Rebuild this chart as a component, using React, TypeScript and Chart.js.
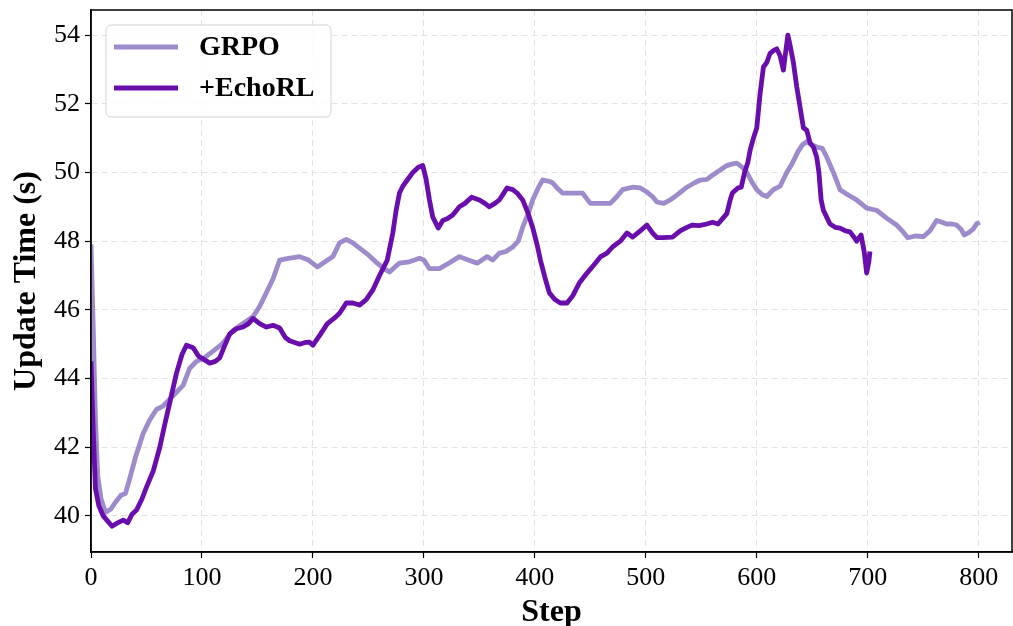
import React, { useEffect, useRef } from "react";
import { Chart, registerables } from "chart.js";

Chart.register(...registerables);

const grpoSteps = [0,2,4,6,9,13,18,22,27,31,35,40,47,53,59,65,71,77,83,89,95,102,110,118,128,137,146,152,158,164,170,178,188,196,204,211,218,224,230,236,242,250,258,264,269,274,278,287,296,300,305,314,322,332,340,348,357,362,368,374,380,385,389,394,398,403,407,412,416,420,425,434,443,450,461,468,474,479,488,495,501,506,510,516,522,528,537,544,549,555,560,566,573,578,582,587,591,596,600,605,609,615,621,627,632,637,641,645,650,654,659,663,669,675,682,690,699,708,717,726,731,736,743,750,756,762,767,771,776,780,784,787,791,795,798,801];
const grpoValues = [47.9,45.5,42.8,41.2,40.5,40.1,40.2,40.4,40.6,40.65,41.1,41.7,42.4,42.8,43.1,43.2,43.4,43.6,43.8,44.3,44.5,44.6,44.8,45.0,45.4,45.6,45.8,46.1,46.5,46.9,47.45,47.5,47.55,47.45,47.25,47.4,47.55,47.95,48.05,47.95,47.8,47.6,47.36,47.2,47.1,47.25,47.36,47.4,47.5,47.45,47.2,47.2,47.35,47.55,47.45,47.36,47.55,47.45,47.65,47.7,47.83,48.0,48.4,48.8,49.2,49.55,49.78,49.75,49.7,49.55,49.4,49.4,49.4,49.1,49.1,49.1,49.3,49.5,49.57,49.55,49.43,49.3,49.14,49.1,49.2,49.34,49.57,49.7,49.78,49.8,49.92,50.05,50.2,50.25,50.27,50.15,50.0,49.7,49.5,49.35,49.3,49.5,49.6,50.0,50.27,50.6,50.8,50.9,50.8,50.74,50.7,50.45,50.0,49.5,49.35,49.2,48.96,48.9,48.67,48.47,48.3,48.1,48.15,48.13,48.3,48.6,48.55,48.5,48.5,48.47,48.35,48.18,48.25,48.35,48.5,48.55];

const echoSteps = [0,2,4,7,11,15,19,24,29,33,37,41,46,50,56,62,66,71,77,82,86,92,97,102,107,112,116,121,125,131,137,142,146,152,158,164,170,175,179,188,193,197,200,207,213,219,224,230,236,242,248,254,260,267,272,275,278,281,285,290,295,299,302,305,308,313,317,321,326,332,337,343,350,355,359,364,368,375,380,384,389,394,398,402,405,409,413,418,423,429,434,440,447,453,459,465,470,477,483,488,495,501,506,510,515,524,531,537,542,548,555,560,565,569,573,576,578,583,586,589,592,594,597,600,603,606,609,612,615,618,621,624,626,628,630,633,636,639,642,645,648,651,654,656,658,660,663,666,671,675,680,684,688,690,694,697,699,701,702];
const echoValues = [44.5,42.5,40.8,40.3,40.0,39.85,39.7,39.8,39.88,39.8,40.05,40.17,40.5,40.84,41.3,42.0,42.6,43.3,44.15,44.7,44.97,44.9,44.65,44.55,44.45,44.5,44.6,45.0,45.3,45.45,45.5,45.6,45.75,45.6,45.5,45.55,45.47,45.2,45.1,45.0,45.05,45.06,44.97,45.3,45.6,45.75,45.9,46.2,46.2,46.14,46.3,46.58,47.0,47.45,48.24,48.9,49.4,49.6,49.78,50.0,50.15,50.2,49.8,49.2,48.7,48.38,48.6,48.65,48.76,49.0,49.1,49.28,49.2,49.1,49.0,49.1,49.2,49.55,49.5,49.4,49.2,48.8,48.4,47.9,47.45,46.95,46.5,46.3,46.2,46.2,46.4,46.78,47.07,47.3,47.54,47.65,47.83,48.0,48.24,48.12,48.3,48.47,48.24,48.1,48.1,48.12,48.3,48.4,48.47,48.45,48.5,48.55,48.5,48.65,48.8,49.2,49.4,49.55,49.57,50.0,50.3,50.65,51.0,51.3,52.3,53.07,53.2,53.47,53.55,53.6,53.4,52.98,53.5,54.0,53.7,53.2,52.5,51.9,51.3,51.23,50.86,50.74,50.45,50.0,49.2,48.9,48.7,48.5,48.4,48.38,48.3,48.27,48.1,48.0,48.18,47.65,47.07,47.4,47.7];

const seriesLabels = ["GRPO", "+EchoRL"];
const xTicks = [0, 100, 200, 300, 400, 500, 600, 700, 800];
const yTicks = [40, 42, 44, 46, 48, 50, 52, 54];

const LIGHT = "#9d8bcb";
const DARK = "#6a0dad";
const FONT = "'Liberation Serif', 'Times New Roman', serif";

const framePlugin = {
  id: "frameAndLegend",
  afterDraw(chart: any) {
    const ctx = chart.ctx;
    const a = chart.chartArea;
    ctx.save();
    ctx.strokeStyle = "#000";
    ctx.lineWidth = 1.5;
    ctx.setLineDash([]);
    ctx.strokeRect(a.left, a.top, a.right - a.left, a.bottom - a.top);

    // legend
    const lx = a.left + 15;
    const ly = a.top + 15;
    const w = 225;
    const h = 92;
    const r = 5;
    ctx.beginPath();
    ctx.moveTo(lx + r, ly);
    ctx.lineTo(lx + w - r, ly);
    ctx.arcTo(lx + w, ly, lx + w, ly + r, r);
    ctx.lineTo(lx + w, ly + h - r);
    ctx.arcTo(lx + w, ly + h, lx + w - r, ly + h, r);
    ctx.lineTo(lx + r, ly + h);
    ctx.arcTo(lx, ly + h, lx, ly + h - r, r);
    ctx.lineTo(lx, ly + r);
    ctx.arcTo(lx, ly, lx + r, ly, r);
    ctx.closePath();
    ctx.fillStyle = "rgba(255,255,255,0.85)";
    ctx.fill();
    ctx.strokeStyle = "#d4d4d4";
    ctx.lineWidth = 1;
    ctx.stroke();

    const colors = [LIGHT, DARK];
    const rows = [ly + 22, ly + 63];
    ctx.font = "bold 28px " + FONT;
    ctx.textBaseline = "middle";
    ctx.textAlign = "left";
    seriesLabels.forEach((lab, i) => {
      ctx.beginPath();
      ctx.strokeStyle = colors[i];
      ctx.lineWidth = 5;
      ctx.lineCap = "butt";
      ctx.moveTo(lx + 8, rows[i]);
      ctx.lineTo(lx + 72, rows[i]);
      ctx.stroke();
      ctx.fillStyle = "#000";
      ctx.fillText(lab, lx + 93, rows[i] + 1);
    });
    ctx.restore();
  },
};

export default function App() {
  const ref = useRef<HTMLCanvasElement | null>(null);
  useEffect(() => {
    document.body.style.margin = "0";
    if (!ref.current) return;
    const grpoData = grpoSteps.map((s, i) => ({ x: s, y: grpoValues[i] }));
    const echoData = echoSteps.map((s, i) => ({ x: s, y: echoValues[i] }));
    const gridCommon = {
      color: "#e3e3e3",
      lineWidth: 1,
      tickColor: "#000",
      tickLength: 6,
      tickWidth: 1.2,
      tickBorderDash: [],
    };
    const borderCommon = { display: true, color: "#000", width: 1.5, dash: [6, 4] };
    const chart = new Chart(ref.current, {
      type: "line",
      data: {
        datasets: [
          {
            label: seriesLabels[0],
            data: grpoData,
            borderColor: LIGHT,
            borderWidth: 4.8,
            pointRadius: 0,
            tension: 0,
            fill: false,
            order: 1,
            borderJoinStyle: "round",
          },
          {
            label: seriesLabels[1],
            data: echoData,
            borderColor: DARK,
            borderWidth: 4.8,
            pointRadius: 0,
            tension: 0,
            fill: false,
            order: 0,
            borderJoinStyle: "round",
          },
        ],
      },
      options: {
        animation: false,
        responsive: true,
        maintainAspectRatio: false,
        layout: { padding: { top: 10, right: 1, left: 0, bottom: 0 } },
        plugins: { legend: { display: false }, tooltip: { enabled: false } },
        scales: {
          x: {
            type: "linear",
            min: 0,
            max: 830,
            afterBuildTicks: (s: any) => {
              s.ticks = xTicks.map((v) => ({ value: v }));
            },
            afterFit: (s: any) => {
              s.height = 74;
              s.paddingLeft = 0;
              s.paddingRight = 0;
            },
            grid: gridCommon,
            border: borderCommon,
            ticks: {
              color: "#000",
              font: { family: FONT, size: 26 },
              padding: 5,
              maxRotation: 0,
            },
            title: {
              display: true,
              text: "Step",
              color: "#000",
              font: { family: FONT, size: 32, weight: "bold", lineHeight: 0.82 },
              padding: { top: 0, bottom: 0 },
            },
          },
          y: {
            type: "linear",
            min: 38.95,
            max: 54.73,
            afterBuildTicks: (s: any) => {
              s.ticks = yTicks.map((v) => ({ value: v }));
            },
            afterFit: (s: any) => {
              s.width = 91;
              s.paddingTop = 0;
              s.paddingBottom = 0;
            },
            grid: gridCommon,
            border: borderCommon,
            ticks: {
              color: "#000",
              font: { family: FONT, size: 26 },
              padding: 5,
            },
            title: {
              display: true,
              text: "Update Time (s)",
              color: "#000",
              font: { family: FONT, size: 32, weight: "bold", lineHeight: 1 },
              padding: { top: 11, bottom: 0 },
            },
          },
        },
      },
      plugins: [framePlugin],
    } as any);
    return () => chart.destroy();
  }, []);
  return (
    <div style={{ position: "absolute", left: 0, top: 0, width: 1013, height: 626 }}>
      <canvas ref={ref} />
    </div>
  );
}
